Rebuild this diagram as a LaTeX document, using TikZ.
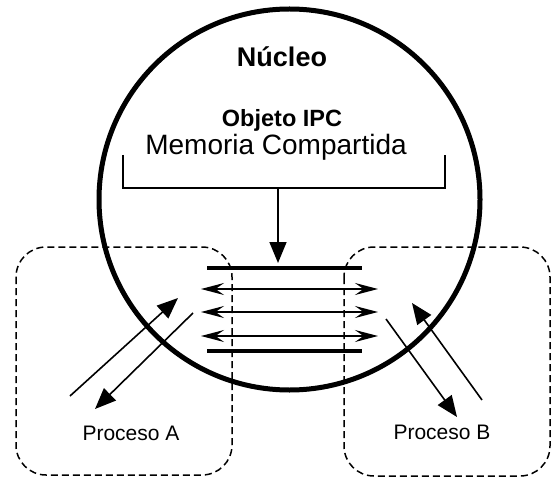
\documentclass[tikz,border=0pt]{standalone}
\usepackage{fontspec}
\setmainfont{Liberation Sans}
\usetikzlibrary{arrows.meta}
\begin{document}
\begin{tikzpicture}[x=1pt,y=-1pt,
  thickline/.style={line width=4.5pt},
  procbox/.style={draw, dashed, dash pattern=on 7pt off 4pt, line width=1.5pt, rounded corners=30pt},
  openarrow/.style={line width=1.6pt, {Stealth[length=23pt,width=12pt,inset=8.5pt]}-{Stealth[length=23pt,width=12pt,inset=8.5pt]}},
  fillarrow/.style={line width=1.6pt, -{Triangle[length=21pt,width=17pt]}},
  lbl/.style={inner sep=0pt, anchor=base}]
\useasboundingbox (0,0) rectangle (553,478);
% kernel circle
\node[draw, circle, line width=5pt, minimum size=381pt, inner sep=0pt] (kernel) at (289.5,199.5) {};
% process boxes
\draw[procbox] (16,247) rectangle (232,475);
\draw[procbox] (344,247) rectangle (550,476);
% texts
\node[lbl, font=\fontsize{27}{32}\selectfont\bfseries] (nucleo) at (282,67) {Núcleo};
\node[lbl, font=\fontsize{23.5}{28}\selectfont\bfseries] (objeto) at (282,127) {Objeto IPC};
\node[lbl, font=\fontsize{28}{34}\selectfont] (memoria) at (276,155) {Memoria Compartida};
\node[lbl, font=\fontsize{21}{25}\selectfont] (procA) at (131,440) {Proceso A};
\node[lbl, font=\fontsize{21}{25}\selectfont] (procB) at (442,439) {Proceso B};
% bracket
\coordinate (brL) at (123,155);
\coordinate (brR) at (445,155);
\coordinate (brM) at (278,188);
\coordinate (brTip) at (278,263);
\draw[line width=1.6pt] (brL) |- (brM) -| (brR);
\draw[fillarrow] (brM) -- (brTip);
% shared memory block
\coordinate (memTL) at (207,268);
\coordinate (memTR) at (362,268);
\coordinate (memBL) at (207,351);
\coordinate (memBR) at (362,351);
\draw[thickline] (memTL) -- (memTR);
\draw[thickline] (memBL) -- (memBR);
\foreach \yy/\nm in {289/a,312/b,336/c}{
  \coordinate (l\nm) at (201,\yy);
  \coordinate (r\nm) at (378,\yy);
  \draw[openarrow] (l\nm) -- (r\nm);
}
% process A arrows
\coordinate (a1s) at (70,396);
\coordinate (a1e) at (178,298);
\coordinate (a2s) at (193,313);
\coordinate (a2e) at (95,409);
\draw[fillarrow] (a1s) -- (a1e);
\draw[fillarrow] (a2s) -- (a2e);
% process B arrows
\coordinate (b1s) at (386,319);
\coordinate (b1e) at (457,417);
\coordinate (b2s) at (482,400);
\coordinate (b2e) at (412,303);
\draw[fillarrow] (b1s) -- (b1e);
\draw[fillarrow] (b2s) -- (b2e);
\end{tikzpicture}
\end{document}
